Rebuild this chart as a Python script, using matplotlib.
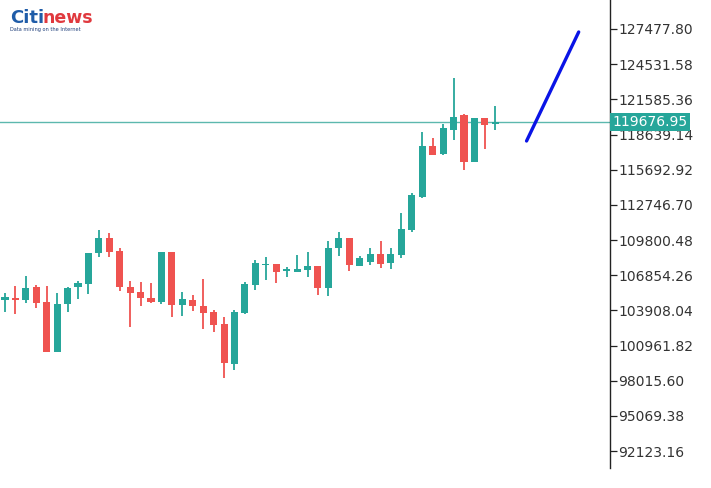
import matplotlib
matplotlib.use("Agg")
import matplotlib.pyplot as plt
import matplotlib.transforms as mtransforms

# candle data
opens = [104776, 104944, 104776, 105865, 104609, 100420, 104441, 105865, 106116, 108713,
         109970, 108881, 105865, 105446, 104944, 104609, 108797, 104357, 104776, 104273,
         103771, 102766, 99415, 103687, 106033, 107708, 107792, 107205, 107122, 107289,
         107624, 105781, 109132, 109970, 107624, 107959, 108630, 107876, 108546, 110640,
         113404, 117677, 117007, 119017, 120274, 116336, 120022, 119520]
closes = [105027, 104776, 105781, 104525, 100420, 104441, 105781, 106200, 108713, 109970,
          108797, 105865, 105363, 104944, 104609, 108797, 104357, 104860, 104273, 103687,
          102682, 99499, 103771, 106116, 107876, 107792, 107122, 107373, 107373, 107624,
          105781, 109132, 109970, 107708, 108294, 108630, 107792, 108630, 110724, 113572,
          117677, 116923, 119185, 120106, 116336, 120022, 119436, 119676.95]
highs = [105363, 105949, 106787, 106033, 105949, 105363, 105865, 106368, 108713, 110640,
         110389, 109132, 106368, 106284, 106200, 108797, 108797, 105446, 105195, 106535,
         103938, 103352, 103938, 106284, 108127, 108378, 107792, 107541, 108546, 108797,
         107624, 109719, 110473, 109970, 108462, 109132, 109719, 109132, 112064, 113740,
         118850, 118347, 119520, 123373, 120357, 120022, 120022, 121028]
lows = [103771, 103603, 104525, 104106, 100420, 100420, 103771, 104860, 105279, 108378,
        108378, 105530, 102514, 104273, 104525, 104441, 103352, 103436, 103855, 102347,
        102096, 98242, 98912, 103603, 105614, 106452, 106200, 106703, 107122, 106703,
        105195, 105111, 108462, 107205, 107624, 107708, 107457, 107373, 108294, 110473,
        113321, 116923, 116923, 118179, 115666, 116336, 117425, 119017]

forecast_x = [50, 55]
forecast_y = [118096, 127227]

tick_vals = [92123.16, 95069.38, 98015.60, 100961.82, 103908.04, 106854.26,
             109800.48, 112746.70, 115692.92, 118639.14, 121585.36, 124531.58, 127477.80]
last_price = closes[-1]

up_col = "#26a69a"
down_col = "#ef5350"

fig = plt.figure(figsize=(7.11, 4.88), dpi=100)
ax = fig.add_axes([0, 20 / 488, 610 / 711, 468 / 488])

for i in range(len(opens)):
    o, c = opens[i], closes[i]
    col = up_col if c >= o else down_col
    ax.vlines(i, lows[i], highs[i], color=col, linewidth=1.3, zorder=2)
    h = abs(c - o)
    if h < 120:
        h = 120
    ax.bar(i, h, bottom=min(o, c), width=0.68, color=col, linewidth=0, zorder=3)

ax.axhline(last_price, color="#5cb8ae", linewidth=1.0, zorder=1)
ax.plot(forecast_x, forecast_y, color="#0a14e6", linewidth=2.4, solid_capstyle="round", zorder=4)

ax.set_xlim(-0.48, 58.0)
ax.set_ylim(90703, 129907)

ax.yaxis.tick_right()
ax.set_yticks(tick_vals)
ax.set_yticklabels([f"{v:.2f}" for v in tick_vals])
ax.tick_params(axis="y", direction="out", length=5, width=0.9, color="#222222",
               labelsize=10, labelcolor="#333333", pad=1)
ax.set_xticks([])
for s in ["top", "left", "bottom"]:
    ax.spines[s].set_visible(False)
ax.spines["right"].set_color("#222222")
ax.spines["right"].set_linewidth(1.0)

trans = mtransforms.blended_transform_factory(ax.transAxes, ax.transData)
ax.text(1.004, last_price, f"{last_price:.2f}", transform=trans, ha="left", va="center",
        fontsize=10, color="white", zorder=5,
        bbox=dict(boxstyle="square,pad=0.15", facecolor=up_col, edgecolor="none"))

# logo
fig.text(10 / 711, 1 - 18 / 488, "Citi", color="#1f5ca8", fontsize=13, fontweight="bold",
         va="center", ha="left")
fig.text(42 / 711, 1 - 18 / 488, "news", color="#e0393e", fontsize=12.5, fontweight="bold",
         va="center", ha="left")
fig.text(10 / 711, 1 - 29 / 488, "Data mining on the Internet", color="#1f3f7a", fontsize=3.6,
         va="center", ha="left")

fig.savefig("out.png", dpi=100, facecolor="white")
